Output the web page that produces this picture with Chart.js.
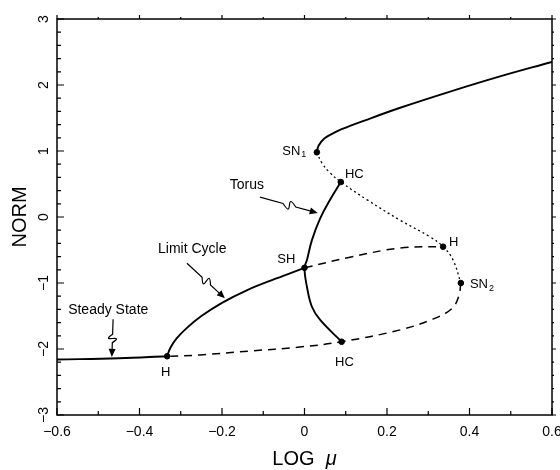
<!DOCTYPE html>
<html>
<head>
<meta charset="utf-8">
<title>Bifurcation diagram</title>
<script src="https://cdn.jsdelivr.net/npm/chart.js@4.4.0/dist/chart.umd.min.js"></script>
<style>
  html, body { margin: 0; padding: 0; background: #fff; }
  canvas { display: block; }
</style>
</head>
<body>
<canvas id="bifChart" width="560" height="470"></canvas>
<script>
// tick labels on both axes
const xTicks = [-0.6, -0.4, -0.2, 0, 0.2, 0.4, 0.6];
const yTicks = [-3, -2, -1, 0, 1, 2, 3];

// stable steady state up to the Hopf point
const steadyX = [-0.6, -0.45, -0.333];
const steadyY = [-2.16, -2.14, -2.11];

// stable limit cycle, H -> SH
const cycleX = [-0.333, -0.325, -0.31, -0.285, -0.25, -0.2, -0.14, -0.07, 0.0];
const cycleY = [-2.11, -1.98, -1.84, -1.68, -1.50, -1.30, -1.11, -0.935, -0.77];

// torus branch, upper HC -> SH -> lower HC
const torusX = [0.088, 0.062, 0.038, 0.018, 0.006, 0.0, 0.006, 0.018, 0.038, 0.09];
const torusY = [0.53, 0.26, -0.02, -0.35, -0.65, -0.77, -1.06, -1.36, -1.56, -1.89];

// upper stable steady state, SN1 -> right edge
const upperX = [0.03, 0.034, 0.048, 0.07, 0.09, 0.147, 0.232, 0.353, 0.474, 0.6];
const upperY = [0.98, 1.08, 1.19, 1.27, 1.33, 1.465, 1.655, 1.9, 2.13, 2.35];

// unstable steady state (dotted), SN1 -> HC -> H -> SN2
const unstableX = [0.03, 0.042, 0.062, 0.088, 0.152, 0.232, 0.304, 0.336, 0.36, 0.379];
const unstableY = [0.98, 0.82, 0.67, 0.53, 0.26, -0.05, -0.30, -0.45, -0.65, -1.0];

// unstable periodic orbits (dashed)
const upperOrbitX = [0.0, 0.11, 0.232, 0.336];
const upperOrbitY = [-0.77, -0.61, -0.47, -0.45];
const lowerOrbitX = [0.379, 0.374, 0.357, 0.31, 0.232, 0.09, -0.012, -0.132, -0.253, -0.333];
const lowerOrbitY = [-1.0, -1.2, -1.39, -1.55, -1.71, -1.89, -1.97, -2.03, -2.09, -2.11];

// special points: H, SH, SN1, HC, H, SN2, HC
const pointX = [-0.333, 0.0, 0.03, 0.088, 0.336, 0.379, 0.09];
const pointY = [-2.11, -0.77, 0.98, 0.53, -0.45, -1.0, -1.89];

const pts = (xs, ys) => xs.map((x, i) => ({ x, y: ys[i] }));

// text next to the curves, placed in data units
const notes = [
  { text: 'Steady State', x: -0.573, y: -1.41, size: 14 },
  { text: 'Limit Cycle', x: -0.355, y: -0.48, size: 14 },
  { text: 'Torus', x: -0.181, y: 0.48, size: 14 },
  { text: 'SH', x: -0.066, y: -0.64, size: 13 },
  { text: 'SN', sub: '1', x: -0.054, y: 1.0, size: 13 },
  { text: 'HC', x: 0.098, y: 0.65, size: 13 },
  { text: 'H', x: 0.35, y: -0.39, size: 13 },
  { text: 'SN', sub: '2', x: 0.401, y: -1.02, size: 13 },
  { text: 'HC', x: 0.074, y: -2.2, size: 13 },
  { text: 'H', x: -0.348, y: -2.35, size: 13 }
];

// squiggly pointers from the names to their branches
const arrows = [
  { from: [-0.464, -1.55], to: [-0.467, -2.12] },
  { from: [-0.285, -0.70], to: [-0.193, -1.23] },
  { from: [-0.108, 0.30], to: [0.032, 0.06] }
];

const FONT = '"Liberation Sans", Arial, Helvetica, sans-serif';

function squiggle(ctx, x0, y0, x1, y1) {
  const dx = x1 - x0, dy = y1 - y0, len = Math.hypot(dx, dy);
  const ux = dx / len, uy = dy / len, nx = -uy, ny = ux;
  const at = (t, off) => [x0 + dx * t + nx * off, y0 + dy * t + ny * off];
  const p1 = at(0.4, 0), p2 = at(0.62, 0);
  const c1 = at(0.66, 14), c2 = at(0.36, -14);
  ctx.beginPath();
  ctx.moveTo(x0, y0);
  ctx.lineTo(p1[0], p1[1]);
  ctx.bezierCurveTo(c1[0], c1[1], c2[0], c2[1], p2[0], p2[1]);
  ctx.lineTo(x1 - ux * 6, y1 - uy * 6);
  ctx.stroke();
  ctx.beginPath();
  ctx.moveTo(x1, y1);
  ctx.lineTo(x1 - ux * 8 + nx * 3.5, y1 - uy * 8 + ny * 3.5);
  ctx.lineTo(x1 - ux * 8 - nx * 3.5, y1 - uy * 8 - ny * 3.5);
  ctx.closePath();
  ctx.fill();
}

// frame, inward ticks, labels, pointers and the x title
const decorations = {
  id: 'decorations',
  afterDraw(chart) {
    const { ctx, chartArea: a, scales: { x, y } } = chart;
    ctx.save();
    ctx.strokeStyle = '#000';
    ctx.fillStyle = '#000';
    ctx.lineWidth = 1.5;
    ctx.strokeRect(a.left, a.top, a.right - a.left, a.bottom - a.top);

    ctx.lineWidth = 1.2;
    ctx.beginPath();
    for (let i = -6; i <= 6; i++) {
      const px = x.getPixelForValue(i / 10);
      const l = i % 2 ? 4 : 7;
      ctx.moveTo(px, a.bottom); ctx.lineTo(px, a.bottom - l);
      ctx.moveTo(px, a.top); ctx.lineTo(px, a.top - (i % 2 ? 2 : 4));
    }
    for (let i = -15; i <= 15; i++) {
      const py = y.getPixelForValue(i / 5);
      const l = i % 5 ? 4 : 7;
      ctx.moveTo(a.left, py); ctx.lineTo(a.left + l, py);
      ctx.moveTo(a.right, py); ctx.lineTo(a.right + (i % 5 ? 2 : 4), py);
    }
    ctx.stroke();

    ctx.textBaseline = 'middle';
    ctx.textAlign = 'left';
    notes.forEach(n => {
      const px = x.getPixelForValue(n.x), py = y.getPixelForValue(n.y);
      ctx.font = n.size + 'px ' + FONT;
      ctx.fillText(n.text, px, py);
      if (n.sub) {
        const w = ctx.measureText(n.text).width;
        ctx.font = '9px ' + FONT;
        ctx.fillText(n.sub, px + w + 1, py + 4);
      }
    });

    ctx.lineWidth = 1.2;
    arrows.forEach(r => {
      squiggle(ctx,
        x.getPixelForValue(r.from[0]), y.getPixelForValue(r.from[1]),
        x.getPixelForValue(r.to[0]), y.getPixelForValue(r.to[1]));
    });

    // x title with an italic mu
    ctx.font = '20px ' + FONT;
    const w1 = ctx.measureText('LOG  ').width;
    ctx.font = 'italic 20px ' + FONT;
    const w2 = ctx.measureText('\u03bc').width;
    const cx = (a.left + a.right) / 2 - (w1 + w2) / 2;
    ctx.font = '20px ' + FONT;
    ctx.fillText('LOG  ', cx, 459);
    ctx.font = 'italic 20px ' + FONT;
    ctx.fillText('\u03bc', cx + w1, 459);
    ctx.restore();
  }
};

const solid = (xs, ys) => ({
  data: pts(xs, ys), borderColor: '#000', borderWidth: 1.9,
  pointRadius: 0, tension: 0.4, fill: false
});
const dashed = (xs, ys, dash, w) => ({
  data: pts(xs, ys), borderColor: '#000', borderWidth: w, borderDash: dash,
  pointRadius: 0, tension: 0.4, fill: false
});

const fmt = v => (v === 0 ? '0' : String(v).replace('-', '\u2212'));

new Chart(document.getElementById('bifChart'), {
  type: 'line',
  data: {
    datasets: [
      solid(steadyX, steadyY),
      solid(cycleX, cycleY),
      solid(torusX, torusY),
      solid(upperX, upperY),
      dashed(unstableX, unstableY, [2, 3], 1.3),
      dashed(upperOrbitX, upperOrbitY, [8, 6], 1.5),
      dashed(lowerOrbitX, lowerOrbitY, [8, 6], 1.5),
      {
        data: pts(pointX, pointY), showLine: false,
        pointRadius: 2.8, pointBackgroundColor: '#000', pointBorderColor: '#000'
      }
    ]
  },
  options: {
    responsive: false,
    animation: false,
    layout: { padding: { top: 19, right: 8, left: 0, bottom: 0 } },
    plugins: { legend: { display: false }, tooltip: { enabled: false } },
    scales: {
      x: {
        type: 'linear', min: -0.6, max: 0.6,
        afterBuildTicks: s => { s.ticks = xTicks.map(v => ({ value: v })); },
        afterFit: s => { s.height = 55; s.paddingLeft = 0; s.paddingRight = 0; },
        grid: { display: false, drawTicks: false },
        border: { display: false },
        ticks: { callback: fmt, padding: 9, maxRotation: 0, color: '#000',
                 font: { family: FONT, size: 14 } },
        title: { display: false }
      },
      y: {
        type: 'linear', min: -3, max: 3,
        afterBuildTicks: s => { s.ticks = yTicks.map(v => ({ value: v })); },
        afterFit: s => { s.width = 57; s.paddingTop = 0; s.paddingBottom = 0; },
        grid: { display: false, drawTicks: false },
        border: { display: false },
        ticks: { callback: fmt, padding: 5, minRotation: 90, maxRotation: 90,
                 crossAlign: 'center', color: '#000',
                 font: { family: FONT, size: 14 } },
        title: { display: true, text: 'NORM', color: '#000',
                 padding: { top: 8, bottom: 0 }, font: { family: FONT, size: 20 } }
      }
    }
  },
  plugins: [decorations]
});
</script>
</body>
</html>
